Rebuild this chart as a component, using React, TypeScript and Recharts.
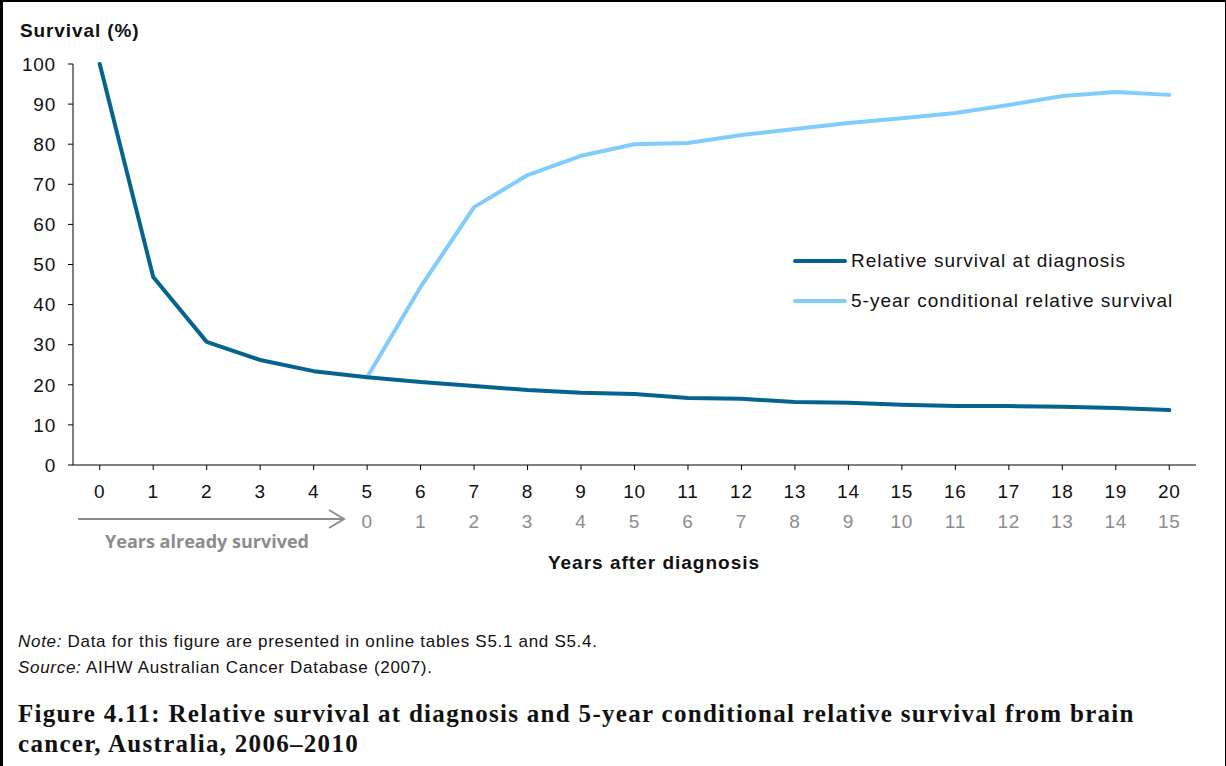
import { LineChart, Line, XAxis, YAxis, Legend } from 'recharts';

// years after diagnosis (x categories)
const years = ['0', '1', '2', '3', '4', '5', '6', '7', '8', '9', '10', '11', '12', '13', '14', '15', '16', '17', '18', '19', '20'];
// second tick row: years after the 5 already survived
const conditionalLabels = ['', '', '', '', '', '0', '1', '2', '3', '4', '5', '6', '7', '8', '9', '10', '11', '12', '13', '14', '15'];

const atDiagnosis = [100, 46.9, 30.7, 26.2, 23.4, 21.9, 20.7, 19.7, 18.7, 18.0, 17.7, 16.7, 16.5, 15.7, 15.5, 15.0, 14.7, 14.7, 14.5, 14.2, 13.7];
const conditional5yr = [null, null, null, null, null, 21.9, 44.4, 64.3, 72.3, 77.1, 80.0, 80.3, 82.3, 83.8, 85.3, 86.5, 87.8, 89.8, 92.0, 93.0, 92.3];

const yTicks = [0, 10, 20, 30, 40, 50, 60, 70, 80, 90, 100];

const DARK = '#04648f';
const LIGHT = '#80cdfc';
const GREY = '#8c8c8c';
const FONT = '"Liberation Sans", Arial, sans-serif';

const data = years.map((y, i) => ({
  year: y,
  atDiagnosis: atDiagnosis[i],
  conditional: conditional5yr[i],
}));

function TwoRowTick(props: any) {
  const { x, y, index, payload } = props;
  return (
    <g>
      <text x={x} y={y} dy={26} textAnchor="middle" fill="#111" fontSize={19} letterSpacing={0.8} fontFamily={FONT}>
        {payload.value}
      </text>
      <text x={x} y={y} dy={56} textAnchor="middle" fill={GREY} fontSize={19} letterSpacing={0.8} fontFamily={FONT}>
        {conditionalLabels[index]}
      </text>
    </g>
  );
}

function LegendBox() {
  const rows = [
    { label: 'Relative survival at diagnosis', color: DARK },
    { label: '5-year conditional relative survival', color: LIGHT },
  ];
  return (
    <div style={{ fontFamily: FONT, fontSize: 19, letterSpacing: 1, color: '#111', whiteSpace: 'nowrap' }}>
      {rows.map((r) => (
        <div key={r.label} style={{ display: 'flex', alignItems: 'center', height: 40 }}>
          <span style={{ display: 'inline-block', width: 54, height: 4, borderRadius: 2, background: r.color, marginRight: 4 }} />
          <span>{r.label}</span>
        </div>
      ))}
    </div>
  );
}

export default function App() {
  return (
    <div style={{ position: 'absolute', left: 0, top: 0, width: 1226, height: 766, background: '#fff', overflow: 'hidden' }}>
      {/* frame */}
      <div style={{ position: 'absolute', left: 0, top: 0, width: 1222, height: 780, borderLeft: '3px solid #000', borderTop: '2px solid #000', borderRight: '2px solid #000' }} />

      <div style={{ position: 'absolute', left: 20, top: 20, fontFamily: FONT, fontWeight: 'bold', fontSize: 19, letterSpacing: 0.9, color: '#111' }}>
        Survival (%)
      </div>

      <div style={{ position: 'absolute', left: 0, top: 0 }}>
        <LineChart width={1226} height={600} data={data} margin={{ top: 64, right: 30, left: 0, bottom: 0 }}>
          <XAxis
            dataKey="year"
            scale="band"
            interval={0}
            height={135}
            tickSize={5}
            tick={<TwoRowTick />}
            axisLine={{ stroke: '#000' }}
            tickLine={{ stroke: '#000' }}
          />
          <YAxis
            domain={[0, 100]}
            ticks={yTicks}
            width={73}
            tickSize={5}
            tickMargin={12}
            axisLine={{ stroke: '#000' }}
            tickLine={{ stroke: '#000' }}
            tick={{ fill: '#111', fontSize: 19, letterSpacing: 0.8, fontFamily: FONT }}
          />
          <Legend
            layout="horizontal"
            verticalAlign="middle"
            align="center"
            content={<LegendBox />}
            wrapperStyle={{ position: 'absolute', left: 793, top: 241, width: 'auto' }}
          />
          <Line
            dataKey="conditional"
            stroke={LIGHT}
            strokeWidth={4}
            dot={false}
            strokeLinejoin="round"
            strokeLinecap="round"
            isAnimationActive={false}
          />
          <Line
            dataKey="atDiagnosis"
            stroke={DARK}
            strokeWidth={4}
            dot={false}
            strokeLinejoin="round"
            strokeLinecap="round"
            isAnimationActive={false}
          />
        </LineChart>
      </div>

      {/* arrow under the first years */}
      <svg style={{ position: 'absolute', left: 0, top: 0 }} width={1226} height={600}>
        <line x1={78} y1={519} x2={344} y2={519} stroke={GREY} strokeWidth={2} />
        <polyline points="329,510 344,519 329,528" fill="none" stroke={GREY} strokeWidth={2} />
        <text x={207} y={548} textAnchor="middle" fill={GREY} fontSize={18} fontWeight="bold" fontFamily='"Open Sans", sans-serif'>
          Years already survived
        </text>
        <text x={654} y={569} textAnchor="middle" fill="#111" fontSize={19} letterSpacing={1} fontWeight="bold" fontFamily={FONT}>
          Years after diagnosis
        </text>
      </svg>

      <div style={{ position: 'absolute', left: 18, top: 629, fontFamily: FONT, fontSize: 17, letterSpacing: 0.7, color: '#111', lineHeight: '26px' }}>
        <div><i>Note:</i> Data for this figure are presented in online tables S5.1 and S5.4.</div>
        <div><i>Source:</i> AIHW Australian Cancer Database (2007).</div>
      </div>

      <div style={{ position: 'absolute', left: 18, top: 699, width: 1165, fontFamily: '"Liberation Serif", serif', fontWeight: 'bold', fontSize: 25, letterSpacing: 1.3, color: '#111', lineHeight: '30px' }}>
        Figure 4.11: Relative survival at diagnosis and 5-year conditional relative survival from brain cancer, Australia, 2006–2010
      </div>
    </div>
  );
}
